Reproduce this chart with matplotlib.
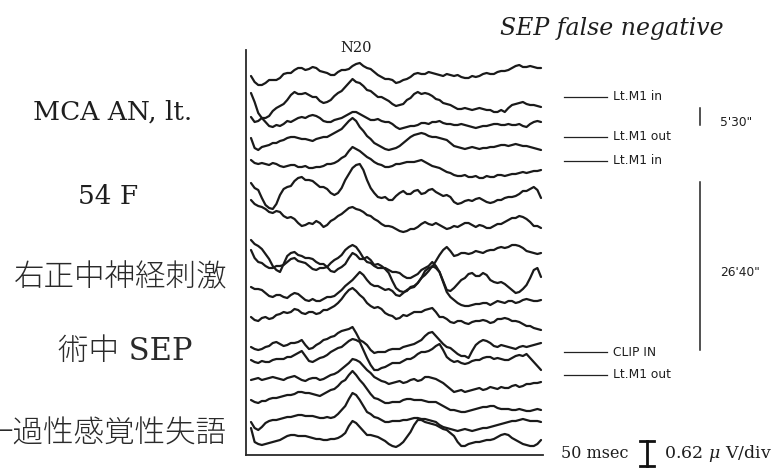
import numpy as np
import matplotlib
matplotlib.use("Agg")
import matplotlib.pyplot as plt

plt.rcParams["mathtext.fontset"] = "dejavuserif"

# ---------------- data ----------------
# each sweep is read at 1.25-ms steps (41 values) plus the half-steps in between (40 values)
time_ms = np.linspace(0, 50, 81)

# resting level of each sweep (display units, larger = lower on the page)
sweep_offsets = [75, 100, 122, 142, 166, 192, 220, 256, 272, 295, 315, 345, 358, 382, 401, 420, 437]

# deflections (negative = upward, clinical convention)
sweep_01 = [1, 10, 8, 5, 3, -2, -5, -7, -6, -7, -3, 0, -3, -5, -9, -12, -7, -3, 2, 4, 8, 5, 2, -2, -1, -2, 0, -1, 1, 2, 3, 2, -1, -1, -3, -4, -7, -10, -8, -8, -7]
sweep_01_half = [7, 10, 5, 5, -1, -2, -7, -5, -8, -4, -2, 0, -5, -6, -11, -9, -6, 0, 4, 5, 7, 4, -1, -1, -3, -1, 1, 0, 0, 3, 1, 1, -2, -1, -4, -5, -9, -8, -9, -7]
sweep_02 = [17, 21, 18, 11, 6, 0, -8, -6, -5, -3, 3, 0, -7, -13, -21, -17, -10, -6, -3, 1, 6, 4, -2, -8, -7, -4, 0, 4, 7, 9, 9, 9, 9, 10, 12, 12, 5, 3, 4, 5, 7]
sweep_02_half = [22, 18, 16, 8, 4, -5, -6, -7, -3, 1, 2, -4, -9, -17, -18, -14, -9, -3, -1, 4, 5, 0, -6, -6, -6, -1, 3, 5, 9, 8, 10, 8, 10, 12, 10, 8, 4, 2, 5, 6]
sweep_03 = [-29, -9, 0, 5, 4, -1, -2, -5, -6, -6, -1, 0, -3, -6, -10, -8, -4, -2, -1, 0, 5, 6, 4, 3, 1, 0, -1, 2, 3, 2, 4, 6, 4, 3, 2, 3, 3, 2, 5, 0, 0]
sweep_03_half = [-20, -4, 4, 3, 2, 0, -4, -4, -7, -4, 0, -2, -4, -8, -10, -6, -2, -3, 0, 2, 7, 5, 4, 1, 2, 0, 1, 2, 3, 3, 5, 5, 4, 2, 3, 2, 3, 4, 2, -1]
sweep_04 = [-4, 8, 4, 1, -1, -4, -5, -3, -2, -3, -5, -7, -11, -17, -24, -15, -6, 1, 5, 8, 6, 1, -5, -8, -8, -5, -4, -2, 4, 6, 6, 6, 6, 5, 4, 3, 3, 3, 4, 6, 8]
sweep_04_half = [6, 5, 3, 1, -2, -5, -4, -3, -1, -4, -5, -9, -13, -21, -21, -11, -3, 3, 7, 7, 4, -2, -7, -9, -6, -5, -3, 1, 5, 7, 5, 7, 6, 5, 3, 4, 2, 4, 5, 7]
sweep_05 = [-6, -2, -2, -3, 0, 0, -1, 1, 2, 1, 0, -2, -5, -10, -19, -15, -9, -4, -1, 1, -2, -3, -4, -5, -4, 0, 2, 6, 9, 10, 11, 10, 12, 11, 9, 10, 8, 7, 7, 5, 4]
sweep_05_half = [-3, -3, -1, -2, 1, -1, 1, 0, 2, 1, -2, -3, -8, -15, -17, -12, -7, -2, 1, 0, -2, -4, -4, -6, -2, 1, 4, 7, 10, 9, 11, 12, 10, 11, 9, 9, 8, 6, 6, 5]
sweep_06 = [-9, -2, 13, 17, 3, -5, -11, -15, -12, -8, -5, 1, 1, -12, -24, -28, -12, 1, 6, 8, 4, -1, 2, -2, 1, -3, 2, 3, 10, 11, 8, 7, 8, 11, 8, 6, 5, 2, -1, -5, 6]
sweep_06_half = [-4, 6, 16, 12, -3, -6, -14, -12, -11, -5, -3, 3, -4, -18, -27, -22, -4, 5, 5, 8, 1, 2, -1, 2, -2, 0, 4, 5, 12, 9, 9, 6, 10, 10, 8, 5, 4, -1, -3, -2]
sweep_07 = [-20, -14, -11, -7, -8, -2, -1, 6, 3, 1, 7, 1, -4, -9, -13, -10, -5, -1, 4, 6, 9, 12, 9, 7, 2, 5, 5, 9, 6, 5, 3, 7, 6, 8, 4, 2, -2, -4, -1, 6, 8]
sweep_07_half = [-16, -13, -8, -9, -4, -3, 3, 5, 4, 3, 5, -1, -6, -12, -11, -8, -4, 1, 6, 7, 11, 11, 9, 4, 4, 3, 7, 8, 7, 3, 5, 5, 8, 6, 4, 0, -2, -3, 2, 6]
sweep_08 = [-16, -10, -2, 10, 16, 0, -4, 0, 2, 6, 8, 15, 13, 8, -3, 3, 1, 9, 10, 17, 32, 36, 31, 27, 15, 11, -1, -9, 0, -3, -2, -5, -3, -6, -8, -8, -11, -10, -5, -3, -3]
sweep_08_half = [-12, -7, 3, 14, 8, -3, -1, 2, 3, 8, 11, 16, 11, 2, -1, 3, 4, 8, 13, 25, 35, 35, 30, 22, 12, 5, -6, -5, -1, -3, -3, -4, -5, -6, -9, -9, -11, -8, -4, -2]
sweep_09 = [-22, -10, -6, -4, -6, -10, -14, -10, -6, -2, -4, -9, -14, -22, -27, -20, -10, -6, -4, -2, 0, 4, 6, 2, -4, -10, 0, 18, 16, 8, 2, 4, 1, 8, 11, 12, 18, 20, 13, -2, 5]
sweep_09_half = [-14, -9, -4, -6, -7, -13, -11, -9, -3, -4, -5, -12, -17, -25, -25, -14, -9, -4, -4, 0, 1, 6, 4, -2, -6, -6, 9, 19, 12, 6, 1, 4, 3, 10, 10, 15, 21, 17, 6, -4]
sweep_10 = [-8, -6, -2, 2, 0, 3, -2, 2, 6, 6, 4, 2, -2, -9, -15, -23, -15, -9, -7, -6, 0, -2, -7, -12, -20, -29, -23, -3, 5, 10, 11, 9, 8, 10, 6, 8, 6, 7, 4, 6, 5]
sweep_10_half = [-6, -5, 1, 0, 2, 0, -1, 5, 4, 6, 2, 1, -5, -12, -19, -20, -11, -9, -5, -4, 1, -5, -8, -17, -24, -27, -13, 2, 8, 11, 10, 9, 8, 8, 7, 6, 8, 5, 5, 6]
sweep_11 = [2, 6, 2, 3, -1, -2, -6, -2, -3, -1, -5, -7, -12, -21, -27, -20, -12, -7, -6, 0, 4, 0, -1, -3, -5, -7, 2, 4, 8, 6, 9, 6, 5, 8, 4, 3, 6, 7, 11, 13, 15]
sweep_11_half = [5, 3, 4, 0, -3, -3, -5, -1, -3, -2, -5, -9, -16, -25, -24, -17, -9, -8, -2, 1, 3, 1, -3, -3, -6, -3, 2, 7, 6, 8, 7, 6, 6, 7, 4, 4, 6, 9, 11, 14]
sweep_12 = [2, 5, 2, -2, -1, 0, -2, -5, 4, 0, -5, -8, -12, -15, -18, -5, 0, 8, 7, 5, 4, 2, 0, -3, -9, -13, -5, 2, 6, 11, 13, 0, -5, -2, 2, 1, 3, 2, 2, 0, -2]
sweep_12_half = [4, 4, 1, -3, 1, -2, -3, 0, 3, -2, -6, -9, -14, -16, -12, -3, 5, 7, 7, 4, 4, 1, -1, -5, -12, -9, -1, 3, 9, 11, 6, -3, -4, 1, 0, 2, 4, 1, 1, -1]
sweep_13 = [2, 5, 4, 2, 1, -1, -3, -7, 3, 2, -1, -6, -10, -14, -19, -16, 0, 12, 10, 7, 5, 3, 1, -4, -6, -9, -14, -1, 4, 5, 5, 2, 0, -1, 0, 2, 0, -3, -4, 4, 12]
sweep_13_half = [4, 3, 4, 1, 1, -1, -5, -2, 4, 0, -3, -8, -11, -17, -18, -8, 7, 12, 9, 5, 5, 1, -1, -6, -7, -12, -8, 2, 3, 6, 3, 2, -1, 1, 1, 2, -2, -2, 0, 8]
sweep_14 = [-2, -4, -3, -5, -3, -4, -6, -2, -3, -4, -3, -7, -10, -16, -23, -20, -12, -5, -1, 2, 0, 1, -2, -1, -5, -4, -1, 4, 10, 8, 9, 7, 8, 5, 7, 6, 4, 5, 2, 1, 0]
sweep_14_half = [-3, -2, -4, -4, -2, -5, -4, -1, -4, -2, -5, -8, -13, -19, -22, -16, -9, -3, 0, 1, -1, 0, -3, -2, -5, -3, 1, 7, 9, 10, 8, 6, 7, 6, 5, 6, 3, 4, 2, 1]
sweep_15 = [-1, 2, 0, -3, -4, -6, -7, -9, -8, -6, -7, -11, -15, -21, -30, -21, -12, -3, 0, 2, 1, -1, -2, -1, 0, 1, 3, 7, 9, 11, 10, 8, 6, 5, 7, 8, 9, 8, 10, 9, 9]
sweep_15_half = [1, 0, -2, -3, -5, -6, -9, -8, -7, -5, -9, -12, -19, -26, -26, -17, -7, -2, 2, 1, 1, -2, -1, -1, 1, 1, 5, 9, 10, 11, 9, 7, 6, 5, 8, 8, 9, 9, 10, 8]
sweep_16 = [2, 10, 3, 0, -1, -3, -4, -5, -4, -3, -2, -2, -6, -14, -27, -20, -8, -3, 0, 2, 1, 0, -1, -2, -1, 1, 5, 8, 10, 10, 10, 10, 8, 7, 5, 3, 1, 0, 0, 1, 2]
sweep_16_half = [8, 7, 1, 0, -2, -3, -5, -4, -4, -2, -3, -3, -10, -21, -25, -14, -6, -2, 2, 1, 1, 0, -2, -1, 0, 2, 7, 9, 11, 9, 11, 9, 8, 6, 4, 2, 1, -1, 1, 1]
sweep_17 = [-9, 7, 7, 5, 3, -1, -2, -1, 0, 2, 3, 2, 1, -4, -16, -10, -2, -1, 2, 7, 10, 5, -5, -17, -15, -13, -10, -7, -1, 9, 7, 5, 4, 3, 0, -3, 1, 5, 8, 9, 3]
sweep_17_half = [5, 8, 6, 4, 1, -2, -1, -1, 1, 2, 3, 2, -1, -11, -14, -6, -2, 0, 4, 9, 8, 0, -12, -17, -14, -12, -8, -4, 5, 9, 6, 5, 3, 2, -2, -2, 3, 7, 9, 7]

sweeps_coarse = [sweep_01, sweep_02, sweep_03, sweep_04, sweep_05, sweep_06, sweep_07, sweep_08, sweep_09,
                 sweep_10, sweep_11, sweep_12, sweep_13, sweep_14, sweep_15, sweep_16, sweep_17]
sweeps_half = [sweep_01_half, sweep_02_half, sweep_03_half, sweep_04_half, sweep_05_half, sweep_06_half,
               sweep_07_half, sweep_08_half, sweep_09_half, sweep_10_half, sweep_11_half, sweep_12_half,
               sweep_13_half, sweep_14_half, sweep_15_half, sweep_16_half, sweep_17_half]

event_labels = ["Lt.M1 in", "Lt.M1 out", "Lt.M1 in", "CLIP IN", "Lt.M1 out"]
interval_labels = ["5'30\"", "26'40\""]
title = "SEP false negative"
peak_label = "N20"
side_labels = ["MCA AN, lt.", "54 F", "右正中神経刺激", "術中 SEP", "一過性感覚性失語"]
time_scale_label = "50 msec"
amp_scale_label = r"0.62 $\mu$ V/div"


def merge(coarse, half):
    full = np.empty(len(coarse) + len(half))
    full[0::2] = coarse
    full[1::2] = half
    return full


# ---------------- figure ----------------
W, H = 776, 471
fig = plt.figure(figsize=(W / 100, H / 100), dpi=100)
fig.patch.set_facecolor("white")

ax = fig.add_axes([246 / W, (H - 455) / H, 297 / W, (455 - 50) / H])
ink = "#1a1a1a"
for off, c, h in zip(sweep_offsets, sweeps_coarse, sweeps_half):
    ax.plot(time_ms, off + merge(c, h), color=ink, lw=1.6,
            solid_joinstyle="round", solid_capstyle="round")
ax.set_xlim(-0.86, 50.34)
ax.set_ylim(455, 50)
for side in ["top", "right"]:
    ax.spines[side].set_visible(False)
for side in ["left", "bottom"]:
    ax.spines[side].set_linewidth(1.3)
    ax.spines[side].set_color("#2a2a2a")
ax.set_xticks([])
ax.set_yticks([])
ax.patch.set_alpha(0)

# overlay for annotations (figure pixel layout)
ov = fig.add_axes([0, 0, 1, 1], facecolor="none")
ov.set_xlim(0, W)
ov.set_ylim(H, 0)
ov.axis("off")

serif = ["DejaVu Serif"]
cjk = ["DejaVu Serif", "Noto Sans CJK JP"]
txt = "#1e1e1e"

ov.text(612, 28, title, fontsize=17, style="italic", family=serif, ha="center", va="center", color=txt)
ov.text(356, 48, peak_label, fontsize=10.5, family=serif, ha="center", va="center", color=txt)

ov.text(113, 112, side_labels[0], fontsize=19, family=serif, ha="center", va="center", color=txt)
ov.text(108, 197, side_labels[1], fontsize=19, family=serif, ha="center", va="center", color=txt)
ov.text(121, 278, side_labels[2], fontsize=22, family=cjk, ha="center", va="center", color="#2a2a2a", fontweight="light")
ov.text(125, 351, side_labels[3], fontsize=22, family=cjk, ha="center", va="center", color="#2a2a2a", fontweight="light")
ov.text(105, 434, side_labels[4], fontsize=22, family=cjk, ha="center", va="center", color="#2a2a2a", fontweight="light")

# event markers
event_y = [97, 137, 161, 352, 375]
for lab, y in zip(event_labels, event_y):
    ov.plot([564, 607], [y, y], color="#222", lw=0.9)
    ov.text(613, y, lab, fontsize=8.8, family=["DejaVu Sans"], ha="left", va="center", color=txt)

# interval bars
ov.plot([700, 700], [108, 125], color="#222", lw=1.1)
ov.text(720, 122, interval_labels[0], fontsize=8.8, family=["DejaVu Sans"], ha="left", va="center", color=txt)
ov.plot([700, 700], [182, 350], color="#222", lw=1.1)
ov.text(720, 273, interval_labels[1], fontsize=8.8, family=["DejaVu Sans"], ha="left", va="center", color=txt)

# scale bar
ov.text(561, 453, time_scale_label, fontsize=11.5, family=serif, ha="left", va="center", color=txt)
ov.plot([647, 647], [441, 466], color="#111", lw=2.0)
ov.plot([640, 654], [441, 441], color="#111", lw=2.0)
ov.plot([640, 654], [466, 466], color="#111", lw=2.0)
ov.text(664, 453, amp_scale_label, fontsize=12.5, family=serif, ha="left", va="center", color=txt)

fig.savefig("out.png", dpi=100, facecolor="white")
